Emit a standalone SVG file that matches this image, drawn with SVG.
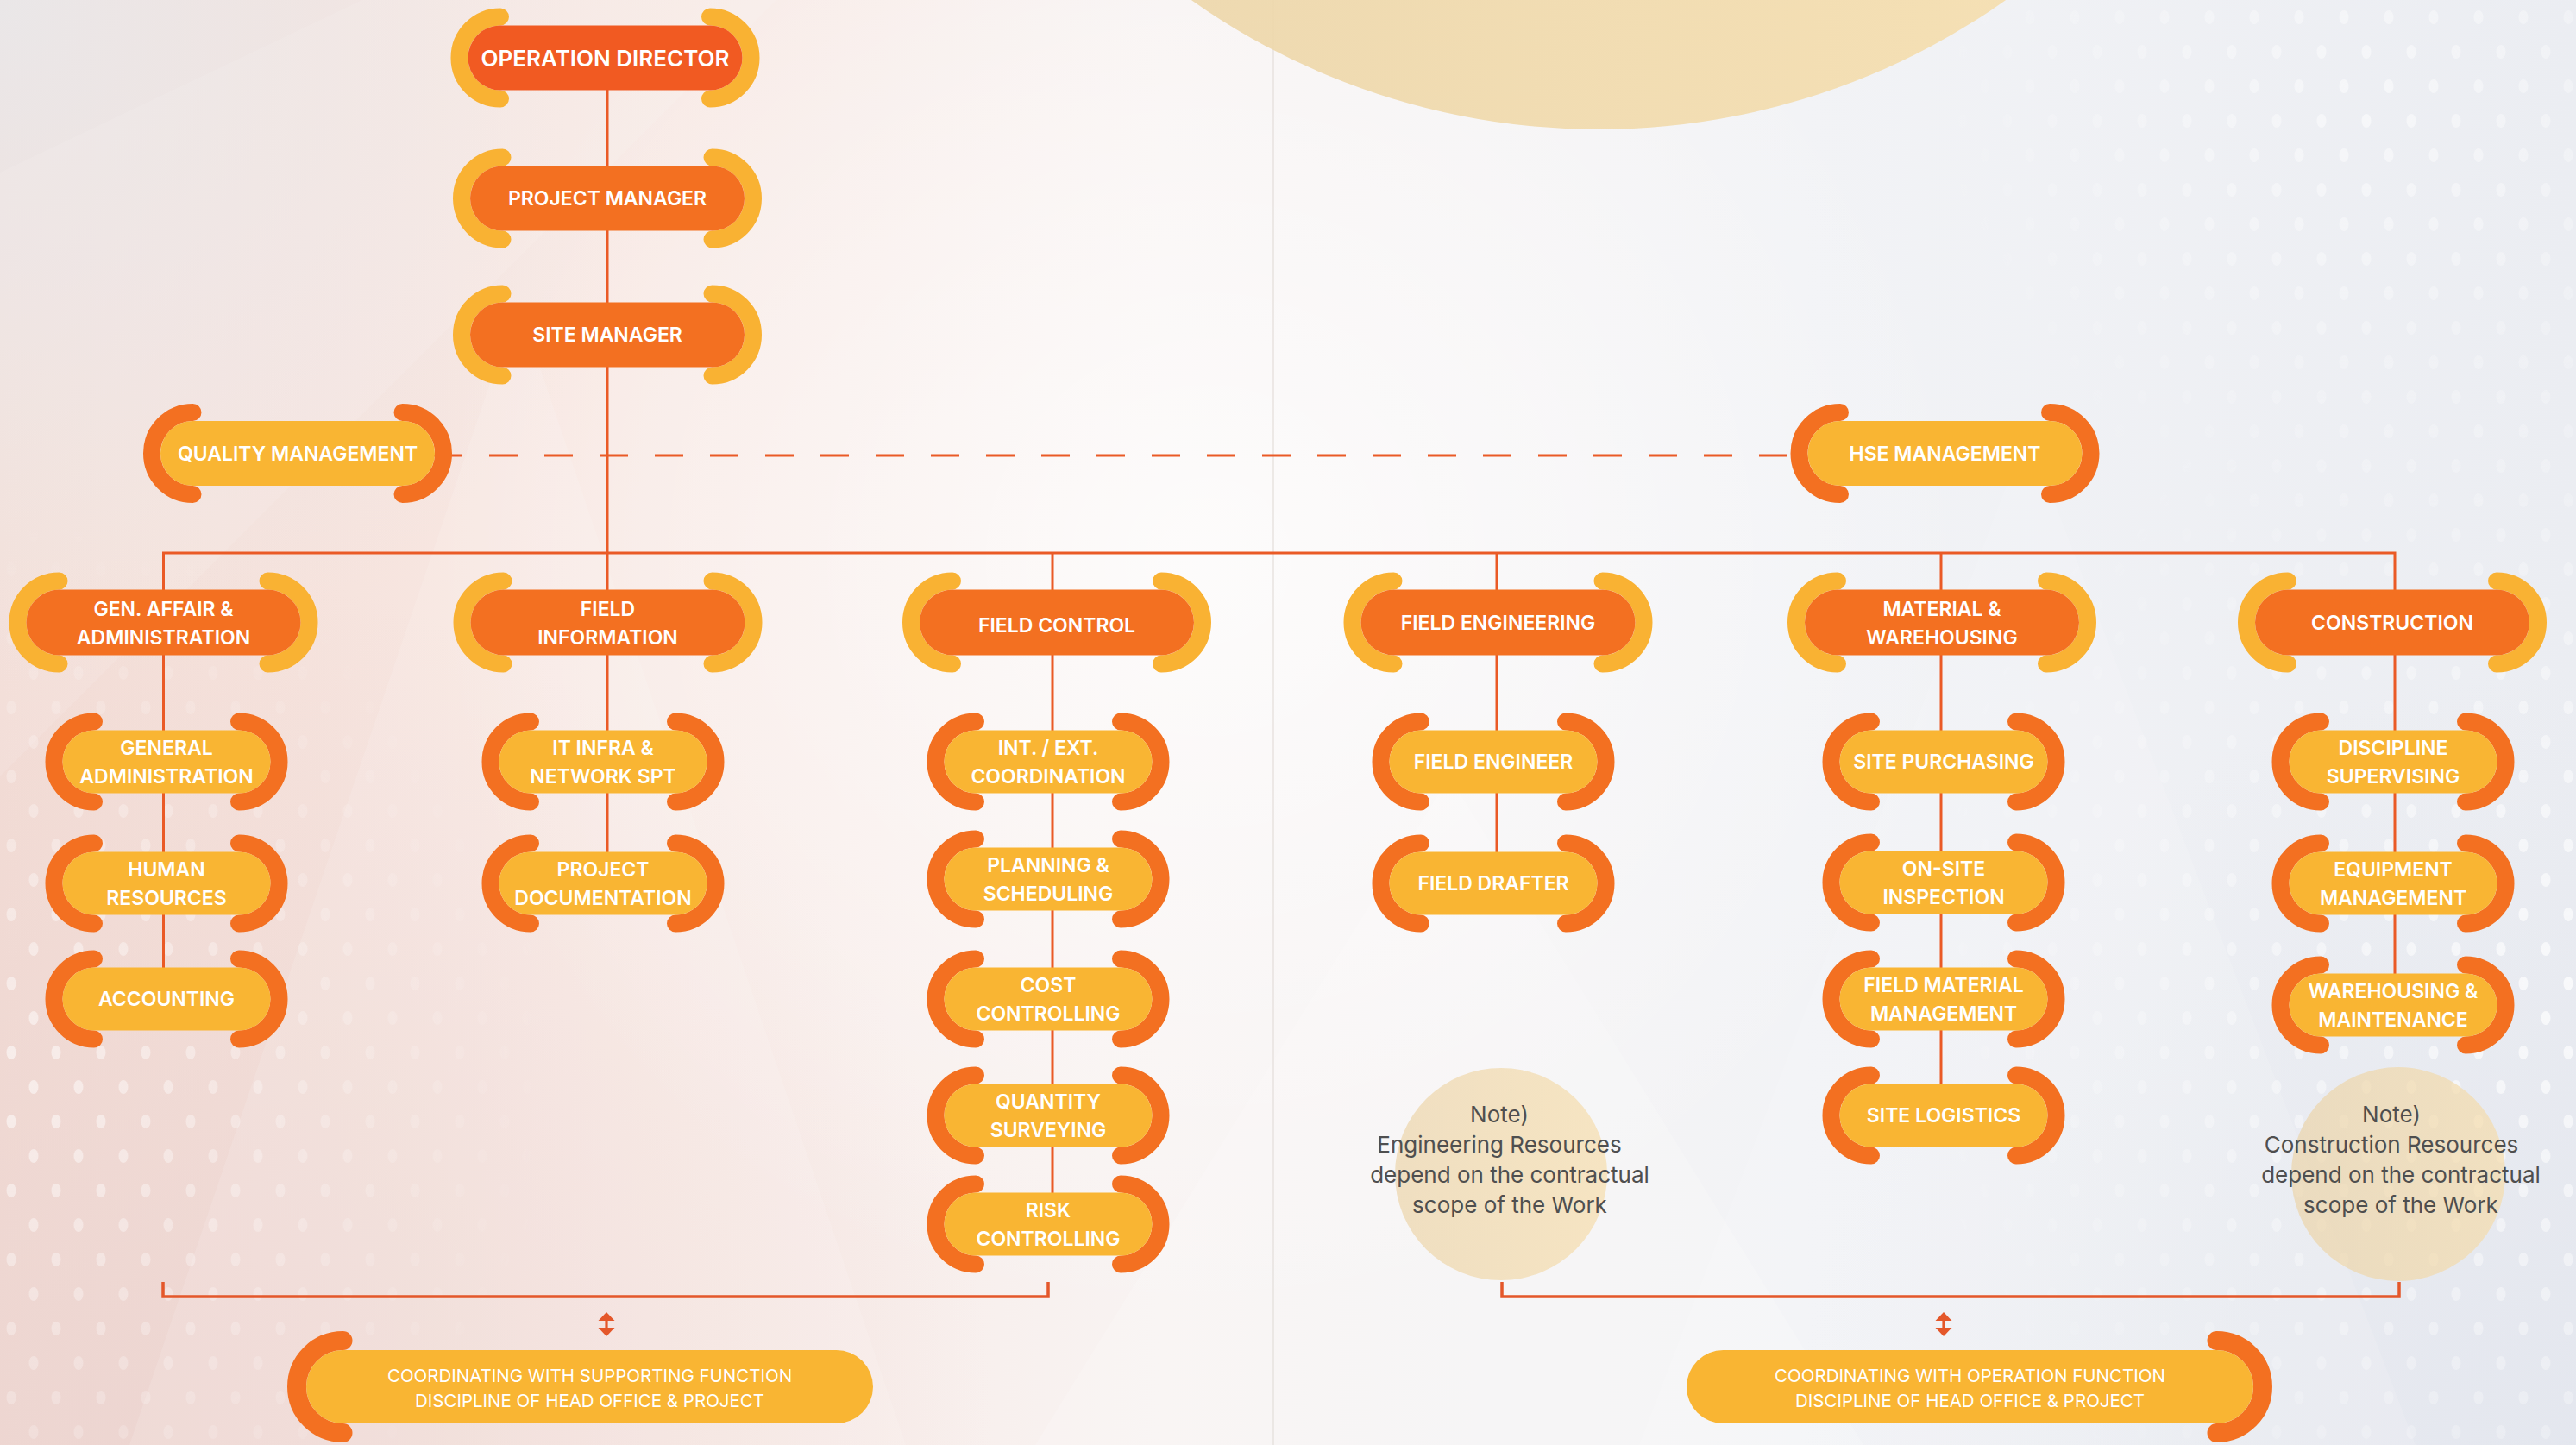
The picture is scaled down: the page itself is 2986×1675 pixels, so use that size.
<svg xmlns="http://www.w3.org/2000/svg" xmlns:xlink="http://www.w3.org/1999/xlink" width="2986" height="1675" viewBox="0 0 2986 1675">
<defs>
<style>
.lbl{font-family:Inter,"Noto Sans","Liberation Sans",sans-serif;font-weight:600;font-size:23px;fill:#fff;text-anchor:middle}
.lbl.big{font-size:26px}
.coord{font-family:Inter,"Noto Sans","Liberation Sans",sans-serif;font-weight:400;font-size:20.5px;fill:#fff;text-anchor:middle}
.note{font-family:Inter,"Noto Sans","Liberation Sans",sans-serif;font-weight:400;font-size:26px;fill:#4f4f4f;text-anchor:middle}
.ln{stroke:#EA5A26;stroke-width:3;fill:none}
.ln2{stroke:#E4572A;stroke-width:3.5;fill:none}
.dash{stroke-dasharray:33 31}
.by{fill:none;stroke:#F9B233;stroke-width:20;stroke-linecap:round}
.bo{fill:none;stroke:#F37021;stroke-width:20;stroke-linecap:round}
.bob{fill:none;stroke:#F37021;stroke-width:22;stroke-linecap:round}
.po{fill:#F37021}
.pr{fill:#F15A22}
.py{fill:#F9B533}
.arr{fill:#E4572A}
</style>
<linearGradient id="bg" x1="0" y1="0" x2="1" y2="0">
<stop offset="0" stop-color="#F3DDD6"/>
<stop offset="0.22" stop-color="#F8E8E3"/>
<stop offset="0.45" stop-color="#F8F3F2"/>
<stop offset="0.7" stop-color="#F2F3F6"/>
<stop offset="1" stop-color="#EBEDF2"/>
</linearGradient>
<radialGradient id="gTL" cx="0" cy="0" r="800" gradientUnits="userSpaceOnUse">
<stop offset="0" stop-color="#E9E8EA" stop-opacity="0.9"/>
<stop offset="1" stop-color="#E9E8EA" stop-opacity="0"/>
</radialGradient>
<radialGradient id="gBL" cx="150" cy="1650" r="1000" gradientUnits="userSpaceOnUse">
<stop offset="0" stop-color="#EBD3CF" stop-opacity="0.8"/>
<stop offset="1" stop-color="#EBD3CF" stop-opacity="0"/>
</radialGradient>
<radialGradient id="gC" cx="1400" cy="650" r="900" gradientUnits="userSpaceOnUse">
<stop offset="0" stop-color="#FFFFFF" stop-opacity="0.7"/>
<stop offset="1" stop-color="#FFFFFF" stop-opacity="0"/>
</radialGradient>
<radialGradient id="gBR" cx="2986" cy="1675" r="900" gradientUnits="userSpaceOnUse">
<stop offset="0" stop-color="#E3E6EE" stop-opacity="0.9"/>
<stop offset="1" stop-color="#E3E6EE" stop-opacity="0"/>
</radialGradient>
<linearGradient id="sun" x1="0" y1="0" x2="1" y2="0">
<stop offset="0" stop-color="#EAD4A8"/>
<stop offset="1" stop-color="#F8E0AE"/>
</linearGradient>
<linearGradient id="noteG" x1="0" y1="0" x2="1" y2="0">
<stop offset="0" stop-color="#EBD2A4"/>
<stop offset="1" stop-color="#F6DBA6"/>
</linearGradient>
<pattern id="dots" width="52" height="80" patternUnits="userSpaceOnUse">
<ellipse cx="13" cy="20" rx="5.5" ry="8" fill="#fff"/>
<ellipse cx="39" cy="60" rx="5.5" ry="8" fill="#fff"/>
</pattern>
<radialGradient id="mg1" cx="0" cy="1250" r="650" gradientUnits="userSpaceOnUse">
<stop offset="0" stop-color="#fff"/><stop offset="1" stop-color="#000"/>
</radialGradient>
<radialGradient id="mg2" cx="2986" cy="1150" r="780" gradientUnits="userSpaceOnUse">
<stop offset="0" stop-color="#fff"/><stop offset="1" stop-color="#000"/>
</radialGradient>
<radialGradient id="mg3" cx="2750" cy="120" r="520" gradientUnits="userSpaceOnUse">
<stop offset="0" stop-color="#fff"/><stop offset="1" stop-color="#000"/>
</radialGradient>
<mask id="m1" maskUnits="userSpaceOnUse" x="0" y="0" width="2986" height="1675"><rect width="2986" height="1675" fill="url(#mg1)"/></mask>
<mask id="m2" maskUnits="userSpaceOnUse" x="0" y="0" width="2986" height="1675"><rect width="2986" height="1675" fill="url(#mg2)"/></mask>
<mask id="m3" maskUnits="userSpaceOnUse" x="0" y="0" width="2986" height="1675"><rect width="2986" height="1675" fill="url(#mg3)"/></mask>
<path id="br1" d="M-121.5 -47.5 A47.5 47.5 0 0 0 -121.5 47.5 M121.5 -47.5 A47.5 47.5 0 0 1 121.5 47.5"/>
<rect id="p1" x="-159" y="-37.5" width="318" height="75" rx="37.5"/>
<path id="br2" d="M-121 -48 A48 48 0 0 0 -121 48 M121 -48 A48 48 0 0 1 121 48"/>
<rect id="p2" x="-159" y="-38" width="318" height="76" rx="38"/>
<path id="br3" d="M-84 -46.5 A46.5 46.5 0 0 0 -84 46.5 M84 -46.5 A46.5 46.5 0 0 1 84 46.5"/>
<rect id="p3" x="-120.5" y="-36.5" width="241" height="73" rx="36.5"/>
<rect id="p4" x="-328.5" y="-42.5" width="657" height="85" rx="42.5"/>
<path id="br4l" d="M-286 -53.5 A53.5 53.5 0 0 0 -286 53.5"/>
<path id="br4r" d="M286 -53.5 A53.5 53.5 0 0 1 286 53.5"/>
<g id="dbl">
<polygon points="0,0 -9.5,10 9.5,10"/>
<polygon points="0,28 -9.5,18 9.5,18"/>
<rect x="-1.6" y="9" width="3.2" height="10"/>
</g>
</defs>

<g id="background">
<rect width="2986" height="1675" fill="url(#bg)"/>
<rect width="2986" height="1675" fill="url(#gTL)"/>
<rect width="2986" height="1675" fill="url(#gBL)"/>
<rect width="2986" height="1675" fill="url(#gBR)"/>
<rect width="2986" height="1675" fill="url(#gC)"/>
<polygon points="1680,900 1200,1675 2160,1675" fill="#fff" opacity="0.18"/>
<polygon points="600,350 150,1675 1050,1675" fill="#fff" opacity="0.12"/>
<polygon points="2350,500 1900,1675 2800,1675" fill="#fff" opacity="0.12"/>
<polygon points="0,200 420,0 900,0 0,900" fill="#fff" opacity="0.1"/>
<rect width="2986" height="1675" fill="url(#dots)" mask="url(#m1)" opacity="0.55"/>
<rect width="2986" height="1675" fill="url(#dots)" mask="url(#m2)" opacity="0.7"/>
<rect width="2986" height="1675" fill="url(#dots)" mask="url(#m3)" opacity="0.5"/>
<line x1="1476" y1="0" x2="1476" y2="1675" stroke="#E4DEDA" stroke-width="2" opacity="0.6"/>
<circle cx="1853" cy="-668" r="818" fill="url(#sun)" opacity="0.9"/>
<circle cx="1740" cy="1361" r="123" fill="url(#noteG)" opacity="0.65"/>
<circle cx="2780" cy="1361" r="124" fill="url(#noteG)" opacity="0.65"/>
</g>

<g id="connectors">
<path class="ln" d="M704 104 V1024"/>
<path class="ln" d="M189.5 1158 V641 H2776 V1165"/>
<path class="ln" d="M1220 641 V1419"/>
<path class="ln" d="M1735 641 V1024"/>
<path class="ln" d="M2250 641 V1293"/>
<path class="ln dash" d="M503 528 H2072"/>
<path class="ln2" d="M189 1486 V1503 H1215 V1486"/>
<path class="ln2" d="M1741 1486 V1503 H2781 V1486"/>
<use href="#dbl" class="arr" transform="translate(703,1521)"/>
<use href="#dbl" class="arr" transform="translate(2253,1521)"/>
</g>

<g id="operation-director" transform="translate(701.5,67)">
<use href="#br1" class="by"/><use href="#p1" class="pr"/>
<text class="lbl big" y="9.5">OPERATION DIRECTOR</text>
</g>
<g id="project-manager" transform="translate(704,230)">
<use href="#br1" class="by"/><use href="#p1" class="po"/>
<text class="lbl" y="8.4">PROJECT MANAGER</text>
</g>
<g id="site-manager" transform="translate(704,388)">
<use href="#br1" class="by"/><use href="#p1" class="po"/>
<text class="lbl" y="8.4">SITE MANAGER</text>
</g>
<g id="quality-management" transform="translate(345,525.5)">
<use href="#br1" class="bo"/><use href="#p1" class="py"/>
<text class="lbl" y="8.4">QUALITY MANAGEMENT</text>
</g>
<g id="hse-management" transform="translate(2254.5,525.5)">
<use href="#br1" class="bo"/><use href="#p1" class="py"/>
<text class="lbl" y="8.4">HSE MANAGEMENT</text>
</g>

<g id="gen-affair" transform="translate(189.5,721.5)">
<use href="#br2" class="by"/><use href="#p2" class="po"/>
<text class="lbl"><tspan x="0" y="-8">GEN. AFFAIR &amp;</tspan><tspan x="0" y="25">ADMINISTRATION</tspan></text>
</g>
<g id="field-information" transform="translate(704.5,721.5)">
<use href="#br2" class="by"/><use href="#p2" class="po"/>
<text class="lbl"><tspan x="0" y="-8">FIELD</tspan><tspan x="0" y="25">INFORMATION</tspan></text>
</g>
<g id="field-control" transform="translate(1225,721.5)">
<use href="#br2" class="by"/><use href="#p2" class="po"/>
<text class="lbl" y="11">FIELD CONTROL</text>
</g>
<g id="field-engineering" transform="translate(1736.5,721.5)">
<use href="#br2" class="by"/><use href="#p2" class="po"/>
<text class="lbl" y="8.4">FIELD ENGINEERING</text>
</g>
<g id="material-warehousing" transform="translate(2251,721.5)">
<use href="#br2" class="by"/><use href="#p2" class="po"/>
<text class="lbl"><tspan x="0" y="-8">MATERIAL &amp;</tspan><tspan x="0" y="25">WAREHOUSING</tspan></text>
</g>
<g id="construction" transform="translate(2773,721.5)">
<use href="#br2" class="by"/><use href="#p2" class="po"/>
<text class="lbl" y="8.4">CONSTRUCTION</text>
</g>

<g id="general-administration" transform="translate(193,883)">
<use href="#br3" class="bo"/><use href="#p3" class="py"/>
<text class="lbl"><tspan x="0" y="-8">GENERAL</tspan><tspan x="0" y="25">ADMINISTRATION</tspan></text>
</g>
<g id="human-resources" transform="translate(193,1024)">
<use href="#br3" class="bo"/><use href="#p3" class="py"/>
<text class="lbl"><tspan x="0" y="-8">HUMAN</tspan><tspan x="0" y="25">RESOURCES</tspan></text>
</g>
<g id="accounting" transform="translate(193,1158)">
<use href="#br3" class="bo"/><use href="#p3" class="py"/>
<text class="lbl" y="8.4">ACCOUNTING</text>
</g>

<g id="it-infra" transform="translate(699,883)">
<use href="#br3" class="bo"/><use href="#p3" class="py"/>
<text class="lbl"><tspan x="0" y="-8">IT INFRA &amp;</tspan><tspan x="0" y="25">NETWORK SPT</tspan></text>
</g>
<g id="project-documentation" transform="translate(699,1024)">
<use href="#br3" class="bo"/><use href="#p3" class="py"/>
<text class="lbl"><tspan x="0" y="-8">PROJECT</tspan><tspan x="0" y="25">DOCUMENTATION</tspan></text>
</g>

<g id="int-ext-coordination" transform="translate(1215,883)">
<use href="#br3" class="bo"/><use href="#p3" class="py"/>
<text class="lbl"><tspan x="0" y="-8">INT. / EXT.</tspan><tspan x="0" y="25">COORDINATION</tspan></text>
</g>
<g id="planning-scheduling" transform="translate(1215,1019)">
<use href="#br3" class="bo"/><use href="#p3" class="py"/>
<text class="lbl"><tspan x="0" y="-8">PLANNING &amp;</tspan><tspan x="0" y="25">SCHEDULING</tspan></text>
</g>
<g id="cost-controlling" transform="translate(1215,1158)">
<use href="#br3" class="bo"/><use href="#p3" class="py"/>
<text class="lbl"><tspan x="0" y="-8">COST</tspan><tspan x="0" y="25">CONTROLLING</tspan></text>
</g>
<g id="quantity-surveying" transform="translate(1215,1293)">
<use href="#br3" class="bo"/><use href="#p3" class="py"/>
<text class="lbl"><tspan x="0" y="-8">QUANTITY</tspan><tspan x="0" y="25">SURVEYING</tspan></text>
</g>
<g id="risk-controlling" transform="translate(1215,1419)">
<use href="#br3" class="bo"/><use href="#p3" class="py"/>
<text class="lbl"><tspan x="0" y="-8">RISK</tspan><tspan x="0" y="25">CONTROLLING</tspan></text>
</g>

<g id="field-engineer" transform="translate(1731,883)">
<use href="#br3" class="bo"/><use href="#p3" class="py"/>
<text class="lbl" y="8.4">FIELD ENGINEER</text>
</g>
<g id="field-drafter" transform="translate(1731,1024)">
<use href="#br3" class="bo"/><use href="#p3" class="py"/>
<text class="lbl" y="8.4">FIELD DRAFTER</text>
</g>

<g id="site-purchasing" transform="translate(2253,883)">
<use href="#br3" class="bo"/><use href="#p3" class="py"/>
<text class="lbl" y="8.4">SITE PURCHASING</text>
</g>
<g id="on-site-inspection" transform="translate(2253,1023)">
<use href="#br3" class="bo"/><use href="#p3" class="py"/>
<text class="lbl"><tspan x="0" y="-8">ON-SITE</tspan><tspan x="0" y="25">INSPECTION</tspan></text>
</g>
<g id="field-material-management" transform="translate(2253,1158)">
<use href="#br3" class="bo"/><use href="#p3" class="py"/>
<text class="lbl"><tspan x="0" y="-8">FIELD MATERIAL</tspan><tspan x="0" y="25">MANAGEMENT</tspan></text>
</g>
<g id="site-logistics" transform="translate(2253,1293)">
<use href="#br3" class="bo"/><use href="#p3" class="py"/>
<text class="lbl" y="8.4">SITE LOGISTICS</text>
</g>

<g id="discipline-supervising" transform="translate(2774,883)">
<use href="#br3" class="bo"/><use href="#p3" class="py"/>
<text class="lbl"><tspan x="0" y="-8">DISCIPLINE</tspan><tspan x="0" y="25">SUPERVISING</tspan></text>
</g>
<g id="equipment-management" transform="translate(2774,1024)">
<use href="#br3" class="bo"/><use href="#p3" class="py"/>
<text class="lbl"><tspan x="0" y="-8">EQUIPMENT</tspan><tspan x="0" y="25">MANAGEMENT</tspan></text>
</g>
<g id="warehousing-maintenance" transform="translate(2774,1165)">
<use href="#br3" class="bo"/><use href="#p3" class="py"/>
<text class="lbl"><tspan x="0" y="-8">WAREHOUSING &amp;</tspan><tspan x="0" y="25">MAINTENANCE</tspan></text>
</g>

<g id="note-engineering">
<text class="note"><tspan x="1738" y="1301">Note)</tspan><tspan x="1738" y="1336">Engineering Resources</tspan><tspan x="1750" y="1371">depend on the contractual</tspan><tspan x="1750" y="1406">scope of the Work</tspan></text>
</g>
<g id="note-construction">
<text class="note"><tspan x="2772" y="1301">Note)</tspan><tspan x="2772" y="1336">Construction Resources</tspan><tspan x="2783" y="1371">depend on the contractual</tspan><tspan x="2783" y="1406">scope of the Work</tspan></text>
</g>

<g id="coordinating-supporting" transform="translate(683.5,1607.5)">
<use href="#br4l" class="bob"/><use href="#p4" class="py"/>
<text class="coord"><tspan x="0" y="-6">COORDINATING WITH SUPPORTING FUNCTION</tspan><tspan x="0" y="23">DISCIPLINE OF HEAD OFFICE &amp; PROJECT</tspan></text>
</g>
<g id="coordinating-operation" transform="translate(2283.5,1607.5)">
<use href="#br4r" class="bob"/><use href="#p4" class="py"/>
<text class="coord"><tspan x="0" y="-6">COORDINATING WITH OPERATION FUNCTION</tspan><tspan x="0" y="23">DISCIPLINE OF HEAD OFFICE &amp; PROJECT</tspan></text>
</g>
</svg>
